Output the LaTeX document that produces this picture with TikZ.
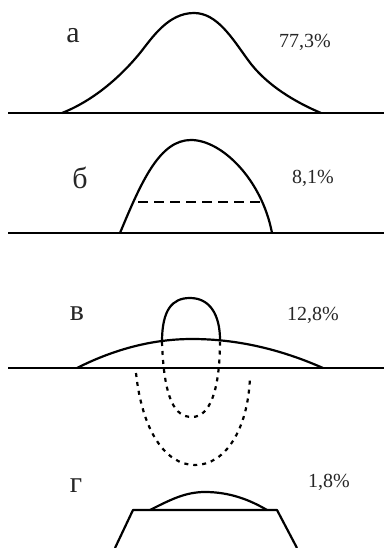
\documentclass[tikz,border=0pt]{standalone}
\usepackage{fontspec}
\setmainfont{Liberation Serif}
\begin{document}
\begin{tikzpicture}[x=1pt,y=-1pt,
  curve/.style={line width=2.2pt, line join=round},
  base/.style={line width=2.2pt},
  dotline/.style={line width=2.2pt, dash pattern=on 4pt off 5pt},
  dashline/.style={line width=2.2pt, dash pattern=on 10pt off 6pt},
  letter/.style={font=\fontsize{30}{30}\selectfont, inner sep=0pt, text=black!85},
  pct/.style={font=\fontsize{20}{20}\selectfont, inner sep=0pt, text=black!85}]
\useasboundingbox (0,0) rectangle (384,548);
% --- a
\draw[base] (8,113) -- (384,113);
\draw[curve] (62,113) .. controls (95,100) and (122,75) .. (140,53)
  .. controls (152,38) and (168,13) .. (194,13)
  .. controls (217,13) and (232,38) .. (248,60)
  .. controls (266,85) and (295,102) .. (321,113);
\node[letter] (la) at (73,36) {а};
\node[pct] (pa) at (305,42) {77,3\%};
% --- б
\draw[base] (8,233) -- (384,233);
\draw[curve] (120,233) .. controls (142,180) and (160,140) .. (191,140)
  .. controls (222,140) and (262,180) .. (272,233);
\draw[dashline] (138,202) -- (260,202);
\node[letter] (lb) at (80,178) {б};
\node[pct] (pb) at (313,178) {8,1\%};
% --- в
\draw[base] (8,368) -- (384,368);
\draw[curve] (77,368) .. controls (115.3,348.7) and (153.7,339) .. (192,339)
  .. controls (235.7,339) and (279.3,348.7) .. (323,368);
\draw[curve] (162,342) .. controls (162,310) and (172,298) .. (190,298)
  .. controls (210,298) and (220,315) .. (220,340);
\draw[dotline] (162,342) .. controls (164,400) and (175,417) .. (192,417)
  .. controls (210,417) and (220,390) .. (220,340);
\draw[dotline] (136,373) .. controls (142,430) and (165,465) .. (195,465)
  .. controls (225,465) and (248,430) .. (250,377);
\node[letter] (lv) at (77,314) {в};
\node[pct] (pv) at (313,315) {12,8\%};
% --- г
\draw[curve] (115,548) -- (133,510) -- (277,510) -- (297,548);
\draw[curve] (150,510) .. controls (170,500) and (185,492) .. (205,492)
  .. controls (230,492) and (250,500) .. (267,510);
\node[letter] (lg) at (76,486) {г};
\node[pct] (pg) at (329,482) {1,8\%};
\end{tikzpicture}
\end{document}
